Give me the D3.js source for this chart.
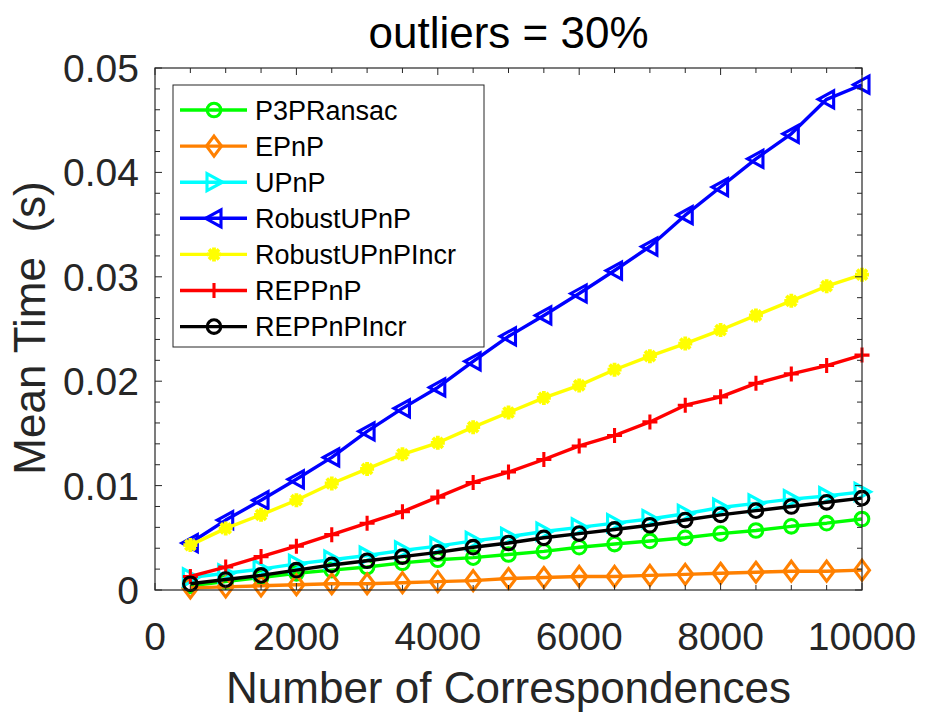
<!DOCTYPE html>
<html>
<head>
<meta charset="utf-8">
<script src="https://cdn.jsdelivr.net/npm/d3@7"></script>
<style>
  body { margin: 0; background: #fff; }
  svg { display: block; }
</style>
</head>
<body>
<div id="chart"></div>
<script>
// Data
const correspondences = [500, 1000, 1500, 2000, 2500, 3000, 3500, 4000, 4500, 5000,
    5500, 6000, 6500, 7000, 7500, 8000, 8500, 9000, 9500, 10000];

const p3pRansac = [0.0004, 0.0008, 0.0012, 0.0016, 0.0019, 0.0022, 0.0026, 0.0029, 0.0031, 0.0034,
    0.0037, 0.0041, 0.0044, 0.0047, 0.0050, 0.0054, 0.0057, 0.0061, 0.0064, 0.0068];
const epnp = [0.0002, 0.0003, 0.0004, 0.0005, 0.0006, 0.0006, 0.0007, 0.0008, 0.0009, 0.0011,
    0.0012, 0.0013, 0.0013, 0.0014, 0.0015, 0.0016, 0.0017, 0.0018, 0.0018, 0.0019];
const upnp = [0.0012, 0.0016, 0.0020, 0.0025, 0.0029, 0.0033, 0.0038, 0.0042, 0.0047, 0.0051,
    0.0056, 0.0060, 0.0064, 0.0068, 0.0073, 0.0079, 0.0083, 0.0087, 0.0090, 0.0094];
const robustUpnp = [0.0045, 0.0067, 0.0086, 0.0106, 0.0127, 0.0152, 0.0174, 0.0194, 0.0219, 0.0243,
    0.0263, 0.0284, 0.0306, 0.0329, 0.0359, 0.0386, 0.0413, 0.0437, 0.0470, 0.0484];
const robustUpnpIncr = [0.0043, 0.0059, 0.0072, 0.0086, 0.0102, 0.0116, 0.0130, 0.0141, 0.0156, 0.0170,
    0.0184, 0.0196, 0.0211, 0.0224, 0.0236, 0.0249, 0.0263, 0.0277, 0.0291, 0.0302];
const reppnp = [0.0013, 0.0022, 0.0032, 0.0042, 0.0053, 0.0064, 0.0075, 0.0089, 0.0103, 0.0113,
    0.0125, 0.0138, 0.0148, 0.0161, 0.0177, 0.0185, 0.0198, 0.0207, 0.0215, 0.0225];
const reppnpIncr = [0.0006, 0.0010, 0.0014, 0.0019, 0.0024, 0.0028, 0.0032, 0.0036, 0.0041, 0.0045,
    0.0050, 0.0054, 0.0058, 0.0062, 0.0067, 0.0072, 0.0076, 0.0080, 0.0084, 0.0088];

const seriesNames = ["P3PRansac", "EPnP", "UPnP", "RobustUPnP", "RobustUPnPIncr", "REPPnP", "REPPnPIncr"];
const seriesColors = ["#00ff00", "#ff8000", "#00ffff", "#0000ff", "#ffff00", "#ff0000", "#000000"];
const seriesMarkers = ["circle", "diamond", "triRight", "triLeft", "star", "plus", "circle"];
const seriesValues = [p3pRansac, epnp, upnp, robustUpnp, robustUpnpIncr, reppnp, reppnpIncr];

const xTicks = [0, 2000, 4000, 6000, 8000, 10000];
const yTicks = [0, 0.01, 0.02, 0.03, 0.04, 0.05];

const titleText = "outliers = 30%";
const xLabel = "Number of Correspondences";
const yLabel = "Mean Time  (s)";

// SVG dimensions
const w = 952;
const h = 714;
const padLeft = 155, padRight = 862, padTop = 68, padBottom = 590;
const axisColor = "#262626";
const font = "'Liberation Sans', Arial, Helvetica, sans-serif";

const xScale = d3.scaleLinear().domain([0, 10000]).range([padLeft, padRight]);
const yScale = d3.scaleLinear().domain([0, 0.05]).range([padBottom, padTop]);

const svg = d3.select("#chart")
    .append("svg")
    .attr("width", w)
    .attr("height", h);

// Marker shapes, MATLAB style
function markerPath(type) {
    switch (type) {
        case "circle":
            return d3.arc()({innerRadius: 0, outerRadius: 6.8, startAngle: 0, endAngle: 2 * Math.PI});
        case "diamond":
            return "M0,-10L7.5,0L0,10L-7.5,0Z";
        case "triRight":
            return "M8.5,0L-7,-8.5L-7,8.5Z";
        case "triLeft":
            return "M-8.5,0L7,-8.5L7,8.5Z";
        case "plus":
            return "M-7.5,0L7.5,0M0,-7.5L0,7.5";
        case "star":
            return "M-7,0L7,0M0,-7L0,7M-5,-5L5,5M-5,5L5,-5";
    }
}

// Axes background
svg.append("rect")
    .attr("x", padLeft)
    .attr("y", padTop)
    .attr("width", padRight - padLeft)
    .attr("height", padBottom - padTop)
    .attr("fill", "white");

// Series lines and markers
const line = d3.line()
    .x((d, i) => xScale(correspondences[i]))
    .y(d => yScale(d));

seriesValues.forEach(function(values, k) {
    const g = svg.append("g");
    g.append("path")
        .datum(values)
        .attr("fill", "none")
        .attr("stroke", seriesColors[k])
        .attr("stroke-width", 3.4)
        .attr("stroke-linejoin", "round")
        .attr("d", line);
    g.selectAll("path.marker")
        .data(values)
        .enter()
        .append("path")
        .attr("class", "marker")
        .attr("transform", (d, i) => "translate(" + xScale(correspondences[i]) + "," + yScale(d) + ")")
        .attr("d", markerPath(seriesMarkers[k]))
        .attr("fill", "none")
        .attr("stroke", seriesColors[k])
        .attr("stroke-width", seriesMarkers[k] == "star" ? 3.8 : 3.1);
});

// Axis ticks (inside, on all four sides)
const xMinor = d3.range(0, 10001, 500);
const yMinor = d3.range(0, 0.05001, 0.002);

const ticks = svg.append("g")
    .attr("stroke", axisColor)
    .attr("stroke-width", 1);

xMinor.forEach(function(v) {
    const len = xTicks.some(t => Math.abs(t - v) < 1e-6) ? 7 : 5;
    const x = xScale(v);
    ticks.append("line").attr("x1", x).attr("x2", x).attr("y1", padBottom).attr("y2", padBottom - len);
    ticks.append("line").attr("x1", x).attr("x2", x).attr("y1", padTop).attr("y2", padTop + len);
});

yMinor.forEach(function(v) {
    const len = yTicks.some(t => Math.abs(t - v) < 1e-9) ? 7 : 5;
    const y = yScale(v);
    ticks.append("line").attr("x1", padLeft).attr("x2", padLeft + len).attr("y1", y).attr("y2", y);
    ticks.append("line").attr("x1", padRight).attr("x2", padRight - len).attr("y1", y).attr("y2", y);
});

svg.append("rect")
    .attr("x", padLeft)
    .attr("y", padTop)
    .attr("width", padRight - padLeft)
    .attr("height", padBottom - padTop)
    .attr("fill", "none")
    .attr("stroke", axisColor)
    .attr("stroke-width", 1.2);

// Tick labels
svg.selectAll("text.xtick")
    .data(xTicks)
    .enter()
    .append("text")
    .attr("class", "xtick")
    .attr("x", d => xScale(d))
    .attr("y", 650)
    .attr("text-anchor", "middle")
    .style("font-family", font)
    .style("font-size", "39px")
    .attr("fill", axisColor)
    .text(d => d);

svg.selectAll("text.ytick")
    .data(yTicks)
    .enter()
    .append("text")
    .attr("class", "ytick")
    .attr("x", 139)
    .attr("y", d => yScale(d))
    .attr("dy", "0.36em")
    .attr("text-anchor", "end")
    .style("font-family", font)
    .style("font-size", "39px")
    .attr("fill", axisColor)
    .text(d => d == 0 ? "0" : d3.format(".2f")(d));

// Title and axis labels
svg.append("text")
    .attr("x", (padLeft + padRight) / 2)
    .attr("y", 48)
    .attr("text-anchor", "middle")
    .style("font-family", font)
    .style("font-size", "44px")
    .attr("fill", "black")
    .text(titleText);

svg.append("text")
    .attr("x", (padLeft + padRight) / 2)
    .attr("y", 703)
    .attr("text-anchor", "middle")
    .style("font-family", font)
    .style("font-size", "44px")
    .attr("fill", axisColor)
    .text(xLabel);

svg.append("text")
    .attr("transform", "translate(45," + 328 + ") rotate(-90)")
    .attr("text-anchor", "middle")
    .style("font-family", font)
    .style("font-size", "44px")
    .style("white-space", "pre")
    .attr("fill", axisColor)
    .text(yLabel);

// Legend
const legend = svg.append("g");
legend.append("rect")
    .attr("x", 173)
    .attr("y", 85)
    .attr("width", 311)
    .attr("height", 262)
    .attr("fill", "white")
    .attr("stroke", axisColor)
    .attr("stroke-width", 1);

seriesNames.forEach(function(name, k) {
    const y = 110 + k * 36.1;
    legend.append("line")
        .attr("x1", 180)
        .attr("x2", 247)
        .attr("y1", y)
        .attr("y2", y)
        .attr("stroke", seriesColors[k])
        .attr("stroke-width", 3.4);
    legend.append("path")
        .attr("transform", "translate(214," + y + ")")
        .attr("d", markerPath(seriesMarkers[k]))
        .attr("fill", "none")
        .attr("stroke", seriesColors[k])
        .attr("stroke-width", seriesMarkers[k] == "star" ? 3.8 : 3.1);
    legend.append("text")
        .attr("x", 255)
        .attr("y", y)
        .attr("dy", "0.36em")
        .style("font-family", font)
        .style("font-size", "27px")
        .attr("fill", "black")
        .text(name);
});
</script>
</body>
</html>
